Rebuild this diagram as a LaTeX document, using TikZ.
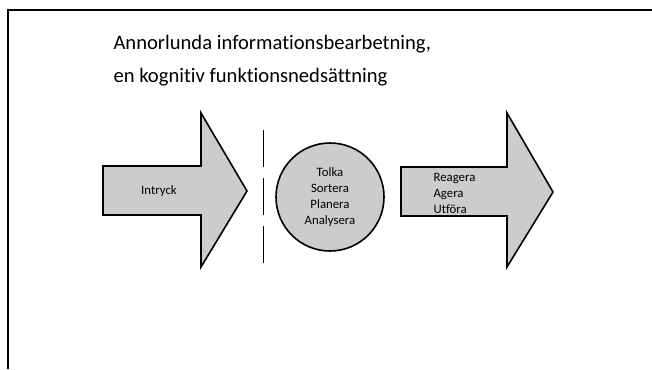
\documentclass[tikz,border=0pt]{standalone}
\usepackage{fontspec}
\setmainfont{Carlito}[Ligatures=NoCommon]

\begin{document}
\begin{tikzpicture}[x=1pt, y=-1pt,
    grayshape/.style={draw=black, fill=black!20, line width=1.6pt, line join=miter},
    smalltext/.style={font=\fontsize{12.8}{16}\selectfont, align=center},
    titletext/.style={font=\fontsize{20.6}{33}\selectfont, anchor=base west}]
                \useasboundingbox (0,0) rectangle (652,369);
                \draw[line width=2pt] (8,369) -- (8,10) -- (652,10);

                \node[titletext] (T1) at (110,49) {Annorlunda informationsbearbetning,};
                \node[titletext] (T2) at (110,82) {en kognitiv funktionsnedsättning};

                \draw[grayshape] (103,166) -- (201,166) -- (201,113) -- (247,191)
                    -- (201,267) -- (201,215) -- (103,215) -- cycle;
                \node[smalltext] (intryck) at (159,191) {Intryck};

                \draw[line width=1pt, dash pattern=on 37pt off 11pt] (263,130) -- (263,265);

                \node[grayshape, circle, minimum size=108pt, inner sep=0pt, smalltext] (tolka) at (330,197)
                    {Tolka\\Sortera\\Planera\\Analysera};

                \draw[grayshape] (401,167) -- (507,167) -- (507,113) -- (553,192)
                    -- (507,267) -- (507,216) -- (401,216) -- cycle;
                \node[smalltext, align=left, anchor=west] (reagera) at (430,193) {Reagera\\Agera\\Utföra};
            \end{tikzpicture}
\end{document}
